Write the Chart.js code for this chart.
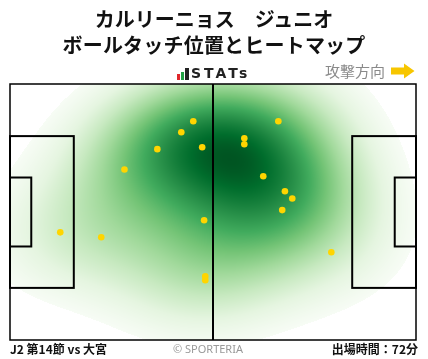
<!DOCTYPE html>
<html lang="ja">
<head>
<meta charset="utf-8">
<script src="https://cdn.jsdelivr.net/npm/chart.js@4.4.1/dist/chart.umd.min.js"></script>
<style>
  html, body { margin: 0; padding: 0; background: #fff; }
  #wrap { position: relative; width: 428px; height: 359px; overflow: hidden; font-family: "Noto Sans CJK JP", "Noto Sans", sans-serif; }
  #pitch { position: absolute; left: 0; top: 0; }
  .t { position: absolute; white-space: nowrap; }
  #title1 { left: 0; width: 428px; text-align: center; top: 6px; font-size: 20px; font-weight: 700; color: #111; line-height: 26px; }
  #title2 { left: 0; width: 428px; text-align: center; top: 32px; font-size: 20px; font-weight: 700; color: #111; line-height: 26px; letter-spacing: 0.2px; }
  #logo { left: 177px; top: 64px; height: 16px; }
  .bar { position: absolute; bottom: 0; width: 3px; }
  #stats { left: 191px; top: 63px; font-family: "DejaVu Sans", sans-serif; font-size: 14px; font-weight: 700; color: #222; letter-spacing: 3px; line-height: 20px; }
  #dir { left: 325px; top: 60px; font-size: 15px; color: #8a8a8a; line-height: 22px; }
  #arrow { position: absolute; left: 390px; top: 63px; }
  #match { left: 10px; top: 340px; font-size: 12px; font-weight: 700; color: #111; line-height: 17px; }
  #copy { left: 173px; top: 341px; font-size: 11px; color: #999; line-height: 15px; font-family: "Noto Sans", sans-serif; }
  #mins { right: 10px; top: 340px; font-size: 12px; font-weight: 700; color: #111; line-height: 17px; }
</style>
</head>
<body>
<div id="wrap">
  <canvas id="pitch" width="428" height="359"></canvas>
  <div class="t" id="title1">カルリーニョス　ジュニオ</div>
  <div class="t" id="title2">ボールタッチ位置とヒートマップ</div>
  <div class="t" id="logo">
    <span class="bar" style="left:0;height:6px;background:#e0262b"></span>
    <span class="bar" style="left:4px;height:8px;background:#22a045"></span>
    <span class="bar" style="left:8px;height:12px;width:3.5px;background:#222"></span>
  </div>
  <div class="t" id="stats">STATs</div>
  <div class="t" id="dir">攻撃方向</div>
  <svg id="arrow" width="26" height="16" viewBox="0 0 26 16">
    <polygon points="1,4.5 14,4.5 14,0.5 24.5,8 14,15.5 14,11.5 1,11.5" fill="#f7c600"/>
  </svg>
  <div class="t" id="match">J2 第14節 vs 大宮</div>
  <div class="t" id="copy">© SPORTERIA</div>
  <div class="t" id="mins">出場時間：72分</div>
</div>
<script>
// Pitch dimensions in metres
const pitchLength = 105;
const pitchWidth = 68;

// Ball touch positions (x: along attacking direction, y: across the pitch)
const touchX = [47.4, 44.3, 38.1, 49.7, 29.6, 69.4, 60.6, 60.6, 65.5, 71.1, 73.0, 70.4, 13.0, 23.6, 50.2, 50.5, 50.5, 83.1];
const touchY = [58.1, 55.2, 50.7, 51.2, 45.3, 58.1, 53.6, 52.0, 43.5, 39.5, 37.6, 34.5, 28.6, 27.3, 31.8, 16.9, 15.9, 23.3];

// Greens colour ramp
const greens = ['#f7fcf5', '#e5f5e0', '#c7e9c0', '#a1d99b', '#74c476', '#41ab5d', '#238b45', '#006d2c', '#00441b'];
const greenRGB = greens.map(h => [1, 3, 5].map(i => parseInt(h.substr(i, 2), 16)));
function rampColor(t) {
  t = Math.max(0, Math.min(1, t)) * (greenRGB.length - 1);
  const i = Math.min(Math.floor(t), greenRGB.length - 2), f = t - i;
  return greenRGB[i].map((c, k) => c + (greenRGB[i + 1][k] - c) * f);
}

// Gaussian kernel density of the touches, drawn under the points
const bandwidthScale = 1.45;
const heatPlugin = {
  id: 'heat',
  beforeDatasetsDraw(chart) {
    const { ctx, chartArea: a, scales: { x, y } } = chart;
    const w = Math.round(a.right - a.left), h = Math.round(a.bottom - a.top);
    const n = touchX.length;
    const mx = touchX.reduce((s, v) => s + v, 0) / n, my = touchY.reduce((s, v) => s + v, 0) / n;
    let sxx = 0, syy = 0, sxy = 0;
    for (let i = 0; i < n; i++) {
      const dx = touchX[i] - mx, dy = touchY[i] - my;
      sxx += dx * dx; syy += dy * dy; sxy += dx * dy;
    }
    const f2 = Math.pow(n, -1 / 3) * bandwidthScale * bandwidthScale;
    const cxx = sxx / (n - 1) * f2, cyy = syy / (n - 1) * f2, cxy = sxy / (n - 1) * f2;
    const det = cxx * cyy - cxy * cxy;
    const ixx = cyy / det, iyy = cxx / det, ixy = -cxy / det;

    const dens = new Float64Array(w * h);
    for (let py = 0; py < h; py++) {
      const vy = y.getValueForPixel(a.top + py + 0.5);
      for (let px = 0; px < w; px++) {
        const vx = x.getValueForPixel(a.left + px + 0.5);
        let s = 0;
        for (let i = 0; i < n; i++) {
          const dx = vx - touchX[i], dy = vy - touchY[i];
          s += Math.exp(-0.5 * (ixx * dx * dx + 2 * ixy * dx * dy + iyy * dy * dy));
        }
        dens[py * w + px] = s;
      }
    }
    // density level below which a small share of the mass lies
    const sorted = Float64Array.from(dens).sort();
    const total = sorted.reduce((s, v) => s + v, 0);
    let acc = 0, thresh = sorted[0];
    for (let i = 0; i < sorted.length; i++) {
      acc += sorted[i];
      if (acc >= total * 0.02) { thresh = sorted[i]; break; }
    }
    const dmax = sorted[sorted.length - 1];

    const off = document.createElement('canvas');
    off.width = w; off.height = h;
    const octx = off.getContext('2d');
    const img = octx.createImageData(w, h);
    for (let k = 0; k < w * h; k++) {
      const d = dens[k];
      let c = [255, 255, 255];
      if (d >= thresh) c = rampColor((d - thresh) / (dmax - thresh) * 0.95);
      img.data[k * 4] = c[0]; img.data[k * 4 + 1] = c[1]; img.data[k * 4 + 2] = c[2]; img.data[k * 4 + 3] = 255;
    }
    octx.putImageData(img, 0, 0);
    ctx.save();
    ctx.drawImage(off, a.left, a.top, w, h);
    ctx.restore();
  }
};

// Pitch markings: halfway line, penalty and goal areas, outline
const linesPlugin = {
  id: 'pitchLines',
  beforeDatasetsDraw(chart) {
    const { ctx, scales: { x, y } } = chart;
    const rect = (x0, y0, x1, y1) => {
      const l = x.getPixelForValue(x0), r = x.getPixelForValue(x1);
      const t = y.getPixelForValue(y1), b = y.getPixelForValue(y0);
      ctx.strokeRect(l, t, r - l, b - t);
    };
    ctx.save();
    ctx.strokeStyle = '#000';
    ctx.lineWidth = 2;
    const boxY0 = (pitchWidth - 40.32) / 2, boxY1 = boxY0 + 40.32;
    const gY0 = (pitchWidth - 18.32) / 2, gY1 = gY0 + 18.32;
    rect(0, boxY0, 16.5, boxY1);
    rect(pitchLength - 16.5, boxY0, pitchLength, boxY1);
    rect(0, gY0, 5.5, gY1);
    rect(pitchLength - 5.5, gY0, pitchLength, gY1);
    const cx = x.getPixelForValue(pitchLength / 2);
    ctx.beginPath();
    ctx.moveTo(cx, y.getPixelForValue(0));
    ctx.lineTo(cx, y.getPixelForValue(pitchWidth));
    ctx.stroke();
    ctx.lineWidth = 1.5;
    rect(0, 0, pitchLength, pitchWidth);
    ctx.restore();
  }
};

new Chart(document.getElementById('pitch'), {
  type: 'scatter',
  data: {
    datasets: [{
      data: touchX.map((v, i) => ({ x: v, y: touchY[i] })),
      backgroundColor: '#ffd500',
      borderWidth: 0,
      pointRadius: 3.3,
      pointHoverRadius: 3.3
    }]
  },
  options: {
    responsive: false,
    animation: false,
    events: [],
    layout: { padding: { left: 10, right: 12, top: 84, bottom: 19 } },
    scales: {
      x: { type: 'linear', min: 0, max: pitchLength, display: false },
      y: { type: 'linear', min: 0, max: pitchWidth, display: false }
    },
    plugins: { legend: { display: false }, tooltip: { enabled: false } }
  },
  plugins: [heatPlugin, linesPlugin]
});
</script>
</body>
</html>
